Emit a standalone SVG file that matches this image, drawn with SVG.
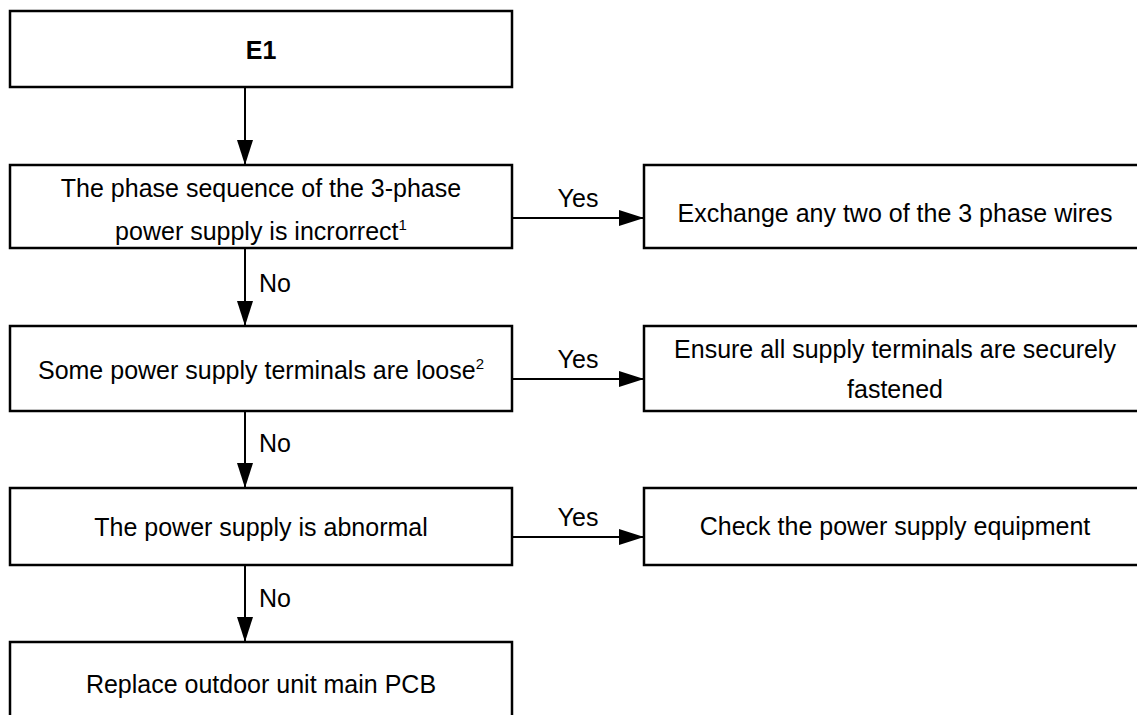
<svg xmlns="http://www.w3.org/2000/svg" width="1137" height="715" viewBox="0 0 1137 715">
<defs>
<style>
.box{fill:#fff;stroke:#000;stroke-width:2.5}
.t{font-family:"Liberation Sans",Arial,sans-serif;font-size:25px;fill:#000;text-anchor:middle}
.b{font-weight:bold}
.sup{font-size:15px}
.lbl{font-family:"Liberation Sans",Arial,sans-serif;font-size:25px;fill:#000}
.ln{stroke:#000;stroke-width:2;fill:none}
</style>
<marker id="ah" markerWidth="25" markerHeight="16" refX="25" refY="8" orient="auto" markerUnits="userSpaceOnUse">
<path d="M0,0 L25,8 L0,16 Z" fill="#000"/>
</marker>
</defs>
<rect width="1137" height="715" fill="#fff"/>
<g id="n-e1"><rect class="box" x="10" y="11" width="502" height="76"/><text class="t b" x="261" y="59">E1</text></g>
<g id="n-phase"><rect class="box" x="10" y="165" width="502" height="83"/><text class="t" x="261" y="197">The phase sequence of the 3-phase</text><text class="t" x="261" y="240">power supply is incrorrect<tspan class="sup" dy="-10">1</tspan></text></g>
<g id="n-exchange"><rect class="box" x="644" y="165" width="502" height="83"/><text class="t" x="895" y="222">Exchange any two of the 3 phase wires</text></g>
<g id="n-loose"><rect class="box" x="10" y="326" width="502" height="85"/><text class="t" x="261" y="379">Some power supply terminals are loose<tspan class="sup" dy="-10">2</tspan></text></g>
<g id="n-ensure"><rect class="box" x="644" y="326" width="502" height="85"/><text class="t" x="895" y="358">Ensure all supply terminals are securely</text><text class="t" x="895" y="398">fastened</text></g>
<g id="n-abnormal"><rect class="box" x="10" y="488" width="502" height="77"/><text class="t" x="261" y="536">The power supply is abnormal</text></g>
<g id="n-check"><rect class="box" x="644" y="488" width="502" height="77"/><text class="t" x="895" y="535">Check the power supply equipment</text></g>
<g id="n-replace"><rect class="box" x="10" y="642" width="502" height="85"/><text class="t" x="261" y="693">Replace outdoor unit main PCB</text></g>
<g id="connectors">
<line class="ln" x1="245" y1="87" x2="245" y2="165" marker-end="url(#ah)"/>
<line class="ln" x1="245" y1="248" x2="245" y2="326" marker-end="url(#ah)"/>
<line class="ln" x1="245" y1="411" x2="245" y2="488" marker-end="url(#ah)"/>
<line class="ln" x1="245" y1="565" x2="245" y2="642" marker-end="url(#ah)"/>
<line class="ln" x1="512" y1="218" x2="644" y2="218" marker-end="url(#ah)"/>
<line class="ln" x1="512" y1="379" x2="644" y2="379" marker-end="url(#ah)"/>
<line class="ln" x1="512" y1="537" x2="644" y2="537" marker-end="url(#ah)"/>
<text class="lbl" x="259" y="292">No</text>
<text class="lbl" x="259" y="452">No</text>
<text class="lbl" x="259" y="607">No</text>
<text class="t" x="578" y="207">Yes</text>
<text class="t" x="578" y="368">Yes</text>
<text class="t" x="578" y="526">Yes</text>
</g>
</svg>
